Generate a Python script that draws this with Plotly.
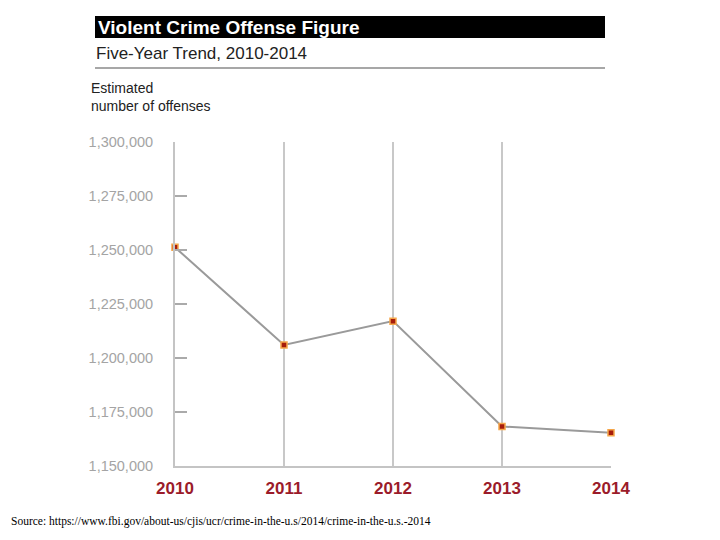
import plotly.graph_objects as go

years = [2010, 2011, 2012, 2013, 2014]
offenses = [1251248, 1206005, 1217067, 1168298, 1165383]
y_ticks = [1150000, 1175000, 1200000, 1225000, 1250000, 1275000, 1300000]
y_labels = [f"{v:,}" for v in y_ticks]

# page body adds 8px, so the target pixel positions are shifted back by 8
OFF = 8
L, R, T, B = 175, 611, 142, 466


def px(x):
    return (x - L) / (R - L)


def py(y):
    return (B - y) / (B - T)


fig = go.Figure()
fig.add_trace(go.Scatter(
    x=years, y=offenses, mode="lines+markers",
    line=dict(color="#9a9a9a", width=2),
    marker=dict(symbol="square", size=6, color="#a61c0c",
                line=dict(color="#f5a64a", width=1.5)),
    cliponaxis=False, hoverinfo="x+y",
))

fig.update_layout(
    width=720, height=540,
    margin=dict(l=L - OFF, r=720 - R + OFF, t=T - OFF, b=540 - B + OFF),
    paper_bgcolor="white", plot_bgcolor="white",
    showlegend=False,
    font=dict(family="Arial, Liberation Sans, sans-serif"),
    xaxis=dict(
        range=[2010, 2014], tickvals=years, ticktext=[str(y) for y in years],
        showgrid=True, gridcolor="#c8c8c8", gridwidth=1.5,
        showline=True, linecolor="#c4c4c4", linewidth=2,
        zeroline=False, ticks="", ticklabelstandoff=6,
        tickfont=dict(size=17, color="#9b1b2a", weight="bold"),
    ),
    yaxis=dict(
        range=[1150000, 1300000], tickvals=y_ticks, ticktext=y_labels,
        showgrid=False, zeroline=False,
        showline=True, linecolor="#c4c4c4", linewidth=2,
        ticks="inside", ticklen=12, tickcolor="#aaaaaa", tickwidth=1.5,
        ticklabelstandoff=17,
        tickfont=dict(size=14.5, color="#a4a4a4"),
    ),
)

fig.add_shape(type="rect", xref="paper", yref="paper",
              x0=px(95), x1=px(605), y0=py(38), y1=py(16),
              fillcolor="black", line=dict(width=0))
fig.add_shape(type="line", xref="paper", yref="paper",
              x0=px(95), x1=px(605), y0=py(68), y1=py(68),
              line=dict(color="#8a8a8a", width=1.5))

fig.add_annotation(xref="paper", yref="paper", x=px(96), y=py(27),
                   xanchor="left", yanchor="middle", showarrow=False,
                   text="<b>Violent Crime Offense Figure</b>",
                   font=dict(size=19, color="white"))
fig.add_annotation(xref="paper", yref="paper", x=px(94), y=py(54),
                   xanchor="left", yanchor="middle", showarrow=False,
                   text="Five-Year Trend, 2010-2014",
                   font=dict(size=17, color="#222222"))
fig.add_annotation(xref="paper", yref="paper", x=px(89), y=py(78),
                   xanchor="left", yanchor="top", showarrow=False, align="left",
                   text="Estimated<br>number of offenses",
                   font=dict(size=14, color="#222222"))
fig.add_annotation(xref="paper", yref="paper", x=px(9), y=py(521),
                   xanchor="left", yanchor="middle", showarrow=False,
                   text="Source: https://www.fbi.gov/about-us/cjis/ucr/crime-in-the-u.s/2014/crime-in-the-u.s.-2014",
                   font=dict(size=11.5, color="black", family="Liberation Serif, DejaVu Serif, serif"))

fig.write_html("out.html")
